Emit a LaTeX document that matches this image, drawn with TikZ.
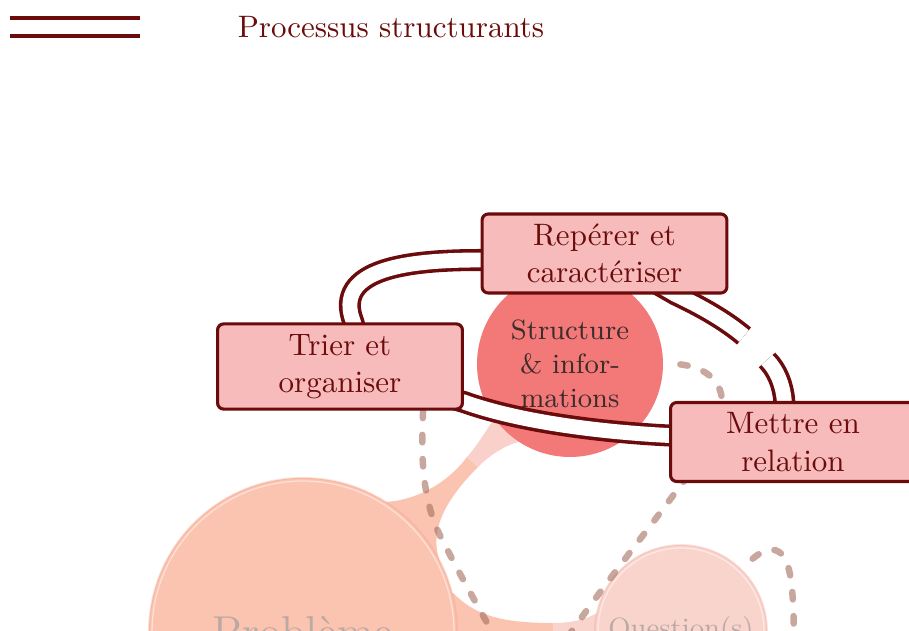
\documentclass[tikz,border=0pt]{standalone}
\pgfdeclarelayer{bg}
\pgfsetlayers{bg,main}
\definecolor{procred}{HTML}{6B0B0B}
\definecolor{boxfill}{HTML}{F7BBBB}
\definecolor{strucfill}{HTML}{F37878}
\definecolor{strucbar}{HTML}{FAD0CA}
\definecolor{probfill}{HTML}{FBC4B0}
\definecolor{probline}{HTML}{EE9A85}
\definecolor{questfill}{HTML}{F9D4CC}
\definecolor{questline}{HTML}{EFA598}
\definecolor{linkbrown}{HTML}{A46E5E}
\definecolor{conceptgray}{HTML}{BBA9A4}
\definecolor{structext}{HTML}{3A2C2C}
\begin{document}
\begin{tikzpicture}[x=0.3226pt,y=-0.3226pt,
    procbox/.style={draw=procred,line width=1pt,fill=boxfill,rounded corners=2pt,align=center,
        text=procred,minimum width=79pt,minimum height=25.5pt,inner sep=0pt},
    proc/.style={draw=procred,line width=1.15pt,double=white,double distance=4.8pt},
    concept/.style={circle,inner sep=0pt,align=center,line width=0.6pt,draw opacity=0.3},
    inset/.style={draw=white,line width=0.4pt,opacity=0.5},
    link/.style={draw=linkbrown,line width=2.1pt,line cap=round,dash pattern=on 2.4pt off 5.4pt,opacity=0.6}]
                \useasboundingbox (0,0) rectangle (909,631);
                \coordinate (legA) at (10,27);
                \coordinate (legB) at (140,27);
                \draw[proc] (legA) -- (legB);
                \node[text=procred] (legend) at (391,27) {Processus structurants};
                \node[procbox] (reperer) at (604.5,253.5) {Repérer et\\caractériser};
                \node[procbox,minimum height=27.5pt] (trier) at (340,366.5) {Trier et\\organiser};
                \node[procbox] (mettre) at (793,442) {Mettre en\\relation};
                \begin{pgfonlayer}{bg}
                \clip (0,0) rectangle (909,631);
                \fill[probfill] (385,502) .. controls (420,500) and (450,480) .. (467,457)
                    -- (478,467) .. controls (440,505) and (430,535) .. (440,562) -- (303,632) -- cycle;
                \fill[strucbar] (467,457) .. controls (477,446) and (485,432) .. (496,416)
                    -- (570,364) -- (522,441) .. controls (505,445) and (490,455) .. (478,467) -- cycle;
                \fill[probfill] (453,593) .. controls (475,615) and (500,623) .. (553,623)
                    -- (553,640) .. controls (500,640) and (475,648) .. (453,670) -- (303,632) -- cycle;
                \fill[questfill] (553,623) .. controls (570,623) and (585,620) .. (597,613)
                    -- (681,631) -- (597,650) .. controls (585,643) and (570,640) .. (553,640) -- cycle;
                \node[concept,fill=probfill,draw=probline,minimum size=99.4pt,text=conceptgray,font=\Large] (prob) at (303,632) {Problème};
                \node[concept,fill=questfill,draw=questline,minimum size=55.5pt,text=conceptgray,font=\small] (quest) at (681,631) {Question(s)};
                \draw[inset] (prob.center) circle (151);
                \draw[inset] (quest.center) circle (83);
                \node[concept,fill=strucfill,minimum size=60pt,text=structext,font=\small] (struct) at (570,364) {Structure\\ \& infor-\\mations};
                \coordinate (endA) at (505,655);
                \coordinate (endB) at (555,655);
                \coordinate (endC) at (794,655);
                \draw[link] (trier.-28.5) .. controls (420,470) and (425,510) .. (445,545)
                    .. controls (460,575) and (480,610) .. (endA);
                \draw[link,dash phase=2.5pt] (struct.east) .. controls (700,362) and (722,378) .. (722,402)
                    .. controls (722,440) and (695,465) .. (672,497) .. controls (640,540) and (600,590) .. (endB);
                \draw[link,dash phase=3pt] (quest.45) .. controls (758,550) and (778,540) .. (787,563)
                    .. controls (793,580) and (794,610) .. (endC);
                \coordinate (gapA) at (744,336);
                \coordinate (gapB) at (767,360);
                \draw[proc] (reperer.center) -- (reperer.183) .. controls (410,260) and (332,268) .. (trier.73) -- ++(4,16);
                \draw[proc] (reperer.center) -- (reperer.-30) .. controls (700,306) and (725,320) .. (gapA);
                \draw[proc] (gapB) .. controls (777,370) and (783,385) .. (mettre.102) -- ++(1,14);
                \draw[proc] (mettre.center) -- (mettre.177) .. controls (600,432) and (520,422) .. (trier.-16) -- (trier.center);
                \end{pgfonlayer}
            \end{tikzpicture}
\end{document}
